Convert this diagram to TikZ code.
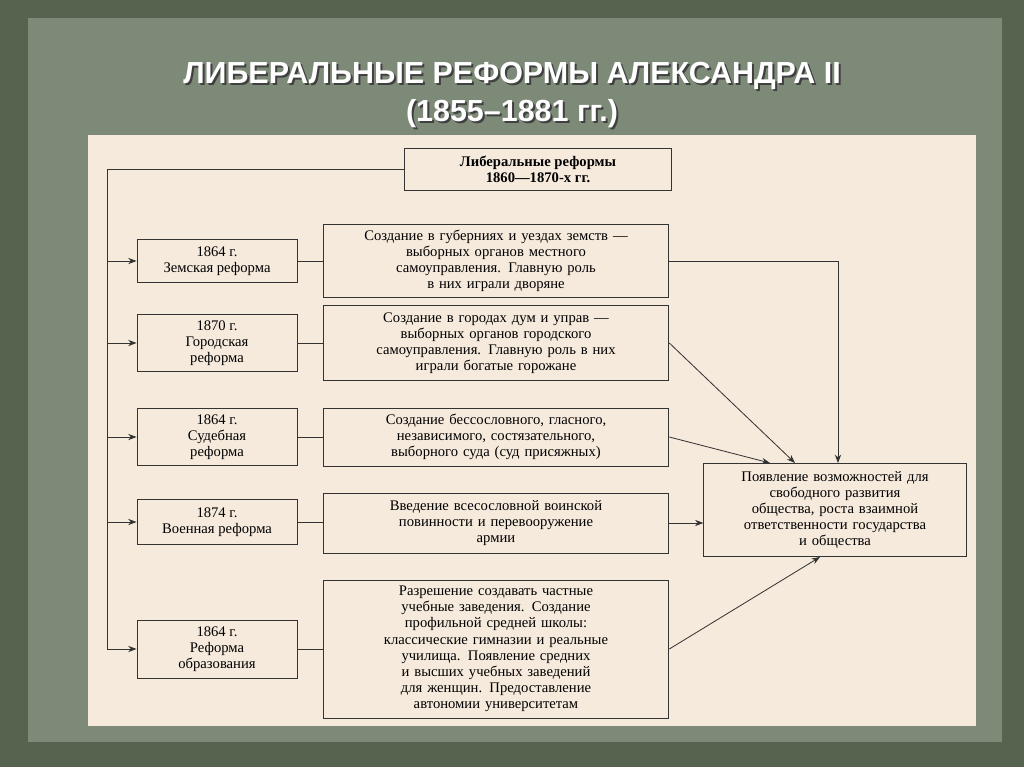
\documentclass[tikz,border=0pt]{standalone}
\usepackage{fontspec}
\setmainfont{Liberation Serif}
\newfontfamily\titlefont{Liberation Sans}
\usetikzlibrary{arrows.meta}
\definecolor{outerbg}{HTML}{56634F}
\definecolor{innerbg}{HTML}{7E8A78}
\definecolor{panel}{HTML}{F6EADC}
\tikzset{
  box/.style={draw=black!80,line width=0.8pt,fill=panel,align=center,inner sep=1pt,
    font=\fontsize{12.5}{13.8}\selectfont},
  link/.style={line width=0.7pt,black!80},
  arr/.style={link,-{Stealth[length=2.5mm]}}
}
\begin{document}
\begin{tikzpicture}[x=0.3mm,y=-0.3mm]
\fill[outerbg] (0,0) rectangle (1024,767);
\fill[innerbg] (28,18) rectangle (1002,742);
\fill[panel] (88,135) rectangle (976,726);
\useasboundingbox (0,0) rectangle (1024,767);
% title
\foreach \dx/\col in {2/black!75,0/white}
  \node[text=\col,font=\titlefont\bfseries\fontsize{26}{33}\selectfont,align=center]
    at (512+\dx,95+\dx) {ЛИБЕРАЛЬНЫЕ РЕФОРМЫ АЛЕКСАНДРА II\\(1855–1881 гг.)};
% top box
\node[box,minimum width=80mm,minimum height=12.6mm,font=\bfseries\fontsize{12.5}{13.8}\selectfont] (top) at (538,169)
  {Либеральные реформы\\1860—1870-х гг.};
% left boxes
\node[box,minimum width=48mm,minimum height=13mm] (l1) at (217,261) {1864 г.\\Земская реформа};
\node[box,minimum width=48mm,minimum height=17mm] (l2) at (217,343) {1870 г.\\Городская\\реформа};
\node[box,minimum width=48mm,minimum height=17mm] (l3) at (217,437) {1864 г.\\Судебная\\реформа};
\node[box,minimum width=48mm,minimum height=13.5mm] (l4) at (217,522) {1874 г.\\Военная реформа};
\node[box,minimum width=48mm,minimum height=17.4mm] (l5) at (217,649) {1864 г.\\Реформа\\образования};
% middle boxes
\node[box,text width=103mm,minimum height=22mm] (m1) at (496,261)
  {Создание в губерниях и уездах земств —\\выборных органов местного\\самоуправления. Главную роль\\в них играли дворяне};
\node[box,text width=103mm,minimum height=22.5mm] (m2) at (496,343)
  {Создание в городах дум и управ —\\выборных органов городского\\самоуправления. Главную роль в них\\играли богатые горожане};
\node[box,text width=103mm,minimum height=17.4mm] (m3) at (496,437)
  {Создание бессословного, гласного,\\независимого, состязательного,\\выборного суда (суд присяжных)};
\node[box,text width=103mm,minimum height=18mm] (m4) at (496,523)
  {Введение всесословной воинской\\повинности и перевооружение\\армии};
\node[box,text width=103mm,minimum height=41.4mm] (m5) at (496,649)
  {Разрешение создавать частные\\учебные заведения. Создание\\профильной средней школы:\\классические гимназии и реальные\\училища. Появление средних\\и высших учебных заведений\\для женщин. Предоставление\\автономии университетам};
% result box
\node[box,text width=78mm,minimum height=28mm] (res) at (835,510)
  {Появление возможностей для\\свободного развития\\общества, роста взаимной\\ответственности государства\\и общества};
% connectors
\coordinate (spine) at (107,169);
\draw[link] (top.west) -- (spine) -- (spine |- l5.west);
\foreach \n in {l1,l2,l3,l4,l5}
  \draw[arr] (spine |- \n.west) -- (\n.west);
\foreach \i in {1,...,5}
  \draw[link] (l\i.east) -- (m\i.west |- l\i.east);
\draw[arr] (m1.east) -- (838,261) -- (838,463);
\draw[arr] (m2.east) -- (795,463);
\draw[arr] (m3.east) -- (770,463);
\draw[arr] (m4.east) -- (res.west |- m4.east);
\draw[arr] (m5.east) -- (820,557);
\end{tikzpicture}
\end{document}
